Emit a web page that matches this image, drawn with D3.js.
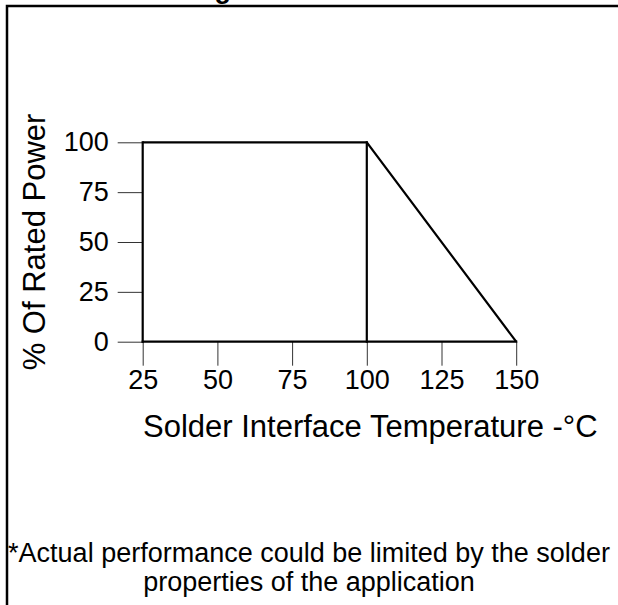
<!DOCTYPE html>
<html>
<head>
<meta charset="utf-8">
<script src="https://cdn.jsdelivr.net/npm/d3@7"></script>
<style>
  body { margin: 0; background: #fff; overflow: hidden; }
  svg { display: block; font-family: Arial, "Liberation Sans", sans-serif; }
</style>
</head>
<body>
<div id="chart"></div>
<script>
// derating curve values
const temps = [25, 100, 150];
const power = [100, 100, 0];
const xTicks = [25, 50, 75, 100, 125, 150];
const yTicks = [0, 25, 50, 75, 100];

const width = 618, height = 605;

const svg = d3.select("#chart")
  .append("svg")
  .attr("width", width)
  .attr("height", height);

// frame around the whole figure: only left and top edges are in view
svg.append("path")
  .attr("d", "M7,700 L7,6 L700,6")
  .attr("fill", "none")
  .attr("stroke", "#000")
  .attr("stroke-width", 2.5);

// title, mostly cut off above the frame
svg.append("text")
  .attr("x", 231).attr("y", -2)
  .attr("text-anchor", "end")
  .style("font-size", "27px")
  .style("font-weight", "bold")
  .text("Derating");

const x = d3.scaleLinear().domain([25, 150]).range([142.7, 516.2]);
const y = d3.scaleLinear().domain([0, 100]).range([341.7, 142.3]);

// y axis ticks
const yAxis = svg.append("g")
  .attr("transform", `translate(${x(25)},0)`)
  .call(d3.axisLeft(y).tickValues(yTicks).tickSize(25).tickPadding(9).tickSizeOuter(0));
yAxis.select(".domain").remove();
yAxis.selectAll(".tick line").attr("stroke", "#333").attr("stroke-width", 1);
yAxis.selectAll(".tick text")
  .attr("fill", "#000")
  .style("font-size", "27px")
  .style("font-family", "Arial, 'Liberation Sans', sans-serif");

// x axis ticks
const xAxis = svg.append("g")
  .attr("transform", `translate(0,${y(0)})`)
  .call(d3.axisBottom(x).tickValues(xTicks).tickSize(24).tickPadding(4).tickSizeOuter(0));
xAxis.select(".domain").remove();
xAxis.selectAll(".tick line").attr("stroke", "#333").attr("stroke-width", 1);
xAxis.selectAll(".tick text")
  .attr("fill", "#000")
  .style("font-size", "27px")
  .style("font-family", "Arial, 'Liberation Sans', sans-serif");

// plot: left edge, baseline and drop line at the knee
function seg(x1, y1, x2, y2) {
  svg.append("line")
    .attr("x1", x(x1)).attr("y1", y(y1))
    .attr("x2", x(x2)).attr("y2", y(y2))
    .attr("stroke", "#000")
    .attr("stroke-width", 2.2)
    .attr("stroke-linecap", "square");
}
seg(temps[0], 0, temps[0], power[0]);
seg(temps[0], 0, temps[temps.length - 1], 0);
seg(temps[1], 0, temps[1], power[1]);

// the derating line
const line = d3.line()
  .x((d, i) => x(temps[i]))
  .y(d => y(d));
svg.append("path")
  .datum(power)
  .attr("d", line)
  .attr("fill", "none")
  .attr("stroke", "#000")
  .attr("stroke-width", 2.2);

// axis titles
svg.append("text")
  .attr("transform", "translate(45,242) rotate(-90)")
  .attr("text-anchor", "middle")
  .style("font-size", "31px")
  .text("% Of Rated Power");

svg.append("text")
  .attr("x", 143).attr("y", 437)
  .style("font-size", "31px")
  .text("Solder Interface Temperature -°C");

// footnote
const note = svg.append("text")
  .attr("text-anchor", "middle")
  .style("font-size", "27px");
note.append("tspan").attr("x", 309).attr("y", 562)
  .text("*Actual performance could be limited by the solder");
note.append("tspan").attr("x", 309).attr("y", 591)
  .text("properties of the application");
</script>
</body>
</html>
